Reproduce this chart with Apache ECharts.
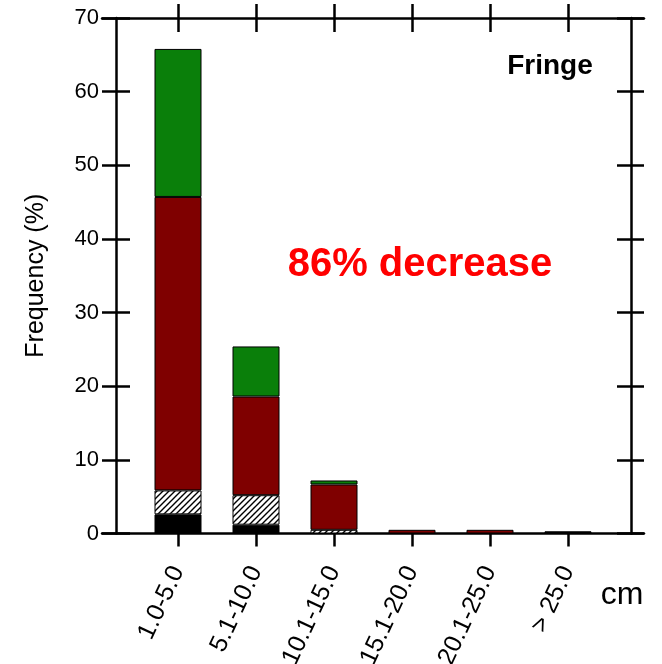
<!DOCTYPE html>
<html>
<head>
<meta charset="utf-8">
<script src="https://cdn.jsdelivr.net/npm/echarts@6/dist/echarts.min.js"></script>
<style>html,body{margin:0;padding:0;background:#fff}#c{width:662px;height:664px}</style>
</head>
<body>
<div id="c"></div>
<script>
const categories = ['1.0-5.0', '5.1-10.0', '10.1-15.0', '15.1-20.0', '20.1-25.0', '> 25.0'];
const blackVals  = [2.6, 1.2, null, null, null, 0.3];
const hatchVals  = [3.25, 4.0, 0.5, null, null, null];
const redVals    = [39.85, 13.4, 6.16, 0.5, 0.5, null];
const greenVals  = [20.1, 6.8, 0.54, null, null, null];
const yMin = 0, yMax = 70, yStep = 10;

const hc = document.createElement('canvas');
hc.width = 6; hc.height = 6;
const g = hc.getContext('2d');
g.fillStyle = '#fff'; g.fillRect(0, 0, 6, 6);
g.strokeStyle = '#000'; g.lineWidth = 1.4;
g.beginPath();
g.moveTo(-1, 7); g.lineTo(7, -1);
g.moveTo(-1, 1); g.lineTo(1, -1);
g.moveTo(5, 7); g.lineTo(7, 5);
g.stroke();

const FONT = '"Liberation Sans", Arial, sans-serif';
const LW = 2.5;
const chart = echarts.init(document.getElementById('c'), null, {renderer: 'canvas'});
const border = {borderColor: '#000', borderWidth: 1};
const gridBase = {top: 18, bottom: 130.5, containLabel: false, outerBoundsMode: 'none'};

const option = {
  backgroundColor: '#fff',
  animation: false,
  grid: [
    Object.assign({left: 102, right: 18}, gridBase),
    Object.assign({left: 139, width: 468}, gridBase),
    Object.assign({left: 116, width: 515}, gridBase)
  ],
  xAxis: [
    {gridIndex: 0, type: 'value', min: 0, max: 1, position: 'bottom',
     axisLine: {show: true, lineStyle: {color: '#000', width: LW}}, axisTick: {show: false}, axisLabel: {show: false}, splitLine: {show: false}},
    {gridIndex: 0, type: 'value', min: 0, max: 1, position: 'top',
     axisLine: {show: true, lineStyle: {color: '#000', width: LW}}, axisTick: {show: false}, axisLabel: {show: false}, splitLine: {show: false}},
    {gridIndex: 1, type: 'category', data: categories, position: 'bottom',
     axisLine: {show: false},
     axisTick: {show: true, alignWithLabel: true, inside: false, length: 13, lineStyle: {color: '#000', width: LW}},
     axisLabel: {show: true, rotate: 65, margin: 34, color: '#000', fontSize: 25, fontFamily: FONT, interval: 0},
     splitLine: {show: false}},
    {gridIndex: 1, type: 'category', data: categories, position: 'top',
     axisLine: {show: false},
     axisTick: {show: true, alignWithLabel: true, inside: true, length: 14, lineStyle: {color: '#000', width: LW}},
     axisLabel: {show: false}, splitLine: {show: false}},
    {gridIndex: 1, type: 'category', data: categories, position: 'top', offset: 0,
     axisLine: {show: false},
     axisTick: {show: true, alignWithLabel: true, inside: false, length: 14, lineStyle: {color: '#000', width: LW}},
     axisLabel: {show: false}, splitLine: {show: false}},
    {gridIndex: 2, type: 'value', min: 0, max: 1, show: false}
  ],
  yAxis: [
    {gridIndex: 0, type: 'value', min: yMin, max: yMax, show: false},
    {gridIndex: 1, type: 'value', min: yMin, max: yMax, show: false},
    {gridIndex: 2, type: 'value', min: yMin, max: yMax, interval: yStep, position: 'left',
     name: 'Frequency (%)', nameLocation: 'middle', nameGap: 67, nameRotate: 90,
     nameTextStyle: {color: '#000', fontSize: 25, fontFamily: FONT},
     axisLine: {show: true, lineStyle: {color: '#000', width: LW}},
     axisTick: {show: true, inside: false, length: 14, lineStyle: {color: '#000', width: LW}},
     axisLabel: {show: true, margin: 17, color: '#000', fontSize: 22, fontFamily: FONT},
     splitLine: {show: false}},
    {gridIndex: 2, type: 'value', min: yMin, max: yMax, interval: yStep, position: 'left',
     axisLine: {show: false},
     axisTick: {show: true, inside: true, length: 14, lineStyle: {color: '#000', width: LW}},
     axisLabel: {show: false}, splitLine: {show: false}},
    {gridIndex: 2, type: 'value', min: yMin, max: yMax, interval: yStep, position: 'right',
     axisLine: {show: true, lineStyle: {color: '#000', width: LW}},
     axisTick: {show: true, inside: true, length: 14, lineStyle: {color: '#000', width: LW}},
     axisLabel: {show: false}, splitLine: {show: false}},
    {gridIndex: 2, type: 'value', min: yMin, max: yMax, interval: yStep, position: 'right',
     axisLine: {show: false},
     axisTick: {show: true, inside: false, length: 13, lineStyle: {color: '#000', width: LW}},
     axisLabel: {show: false}, splitLine: {show: false}}
  ],
  series: [
    {type: 'bar', name: 'black', xAxisIndex: 2, yAxisIndex: 1, stack: 's', barWidth: 47, data: blackVals,
     itemStyle: Object.assign({color: '#000'}, border)},
    {type: 'bar', name: 'hatched', xAxisIndex: 2, yAxisIndex: 1, stack: 's', barWidth: 47, data: hatchVals,
     itemStyle: Object.assign({color: {image: hc, repeat: 'repeat'}}, border)},
    {type: 'bar', name: 'red', xAxisIndex: 2, yAxisIndex: 1, stack: 's', barWidth: 47, data: redVals,
     itemStyle: Object.assign({color: '#7f0000'}, border)},
    {type: 'bar', name: 'green', xAxisIndex: 2, yAxisIndex: 1, stack: 's', barWidth: 47, data: greenVals,
     itemStyle: Object.assign({color: '#0a7f0a'}, border)}
  ],
  graphic: [
    {type: 'text', x: 550, y: 66, style: {text: 'Fringe', fill: '#000', font: 'bold 28px ' + FONT, align: 'center', verticalAlign: 'middle'}},
    {type: 'text', x: 420, y: 265, style: {text: '86% decrease', fill: '#ff0000', font: 'bold 40px ' + FONT, align: 'center', verticalAlign: 'middle'}},
    {type: 'text', x: 622, y: 595, style: {text: 'cm', fill: '#000', font: '32px ' + FONT, align: 'center', verticalAlign: 'middle'}}
  ]
};
chart.setOption(option);
</script>
</body>
</html>
